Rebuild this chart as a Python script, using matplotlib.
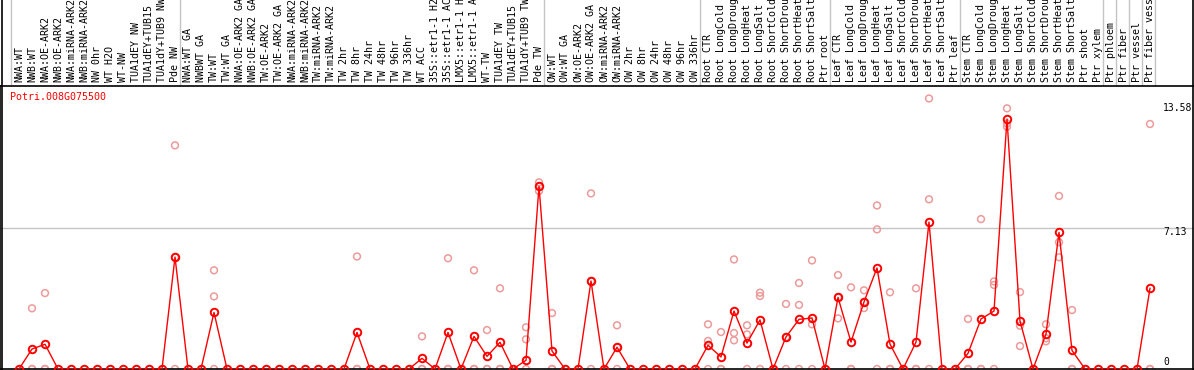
import matplotlib
matplotlib.use("Agg")
import matplotlib.pyplot as plt
from matplotlib.lines import Line2D
from matplotlib.transforms import blended_transform_factory

categories = [
    "NWA:WT", "NWB:WT", "NWA:OE-ARK2", "NWB:OE-ARK2", "NWA:miRNA-ARK2", "NWB:miRNA-ARK2",
    "NW 0hr", "WT H2O", "WT-NW", "TUA1dEY NW", "TUA1dEY+TUB15", "TUA1dY+TUB9 NW", "Pde NW",
    "NWA:WT GA", "NWBWT GA", "TW:WT", "TW:WT GA", "NWA:OE-ARK2 GA", "NWB:OE-ARK2 GA",
    "TW:OE-ARK2", "TW:OE-ARK2 GA", "NWA:miRNA-ARK2", "NWB:miRNA-ARK2", "TW:miRNA-ARK2",
    "TW:miRNA-ARK2", "TW 2hr", "TW 8hr", "TW 24hr", "TW 48hr", "TW 96hr", "TW 336hr",
    "WT ACC", "35S::etr1-1 H2O", "35S::etr1-1 ACC", "LMX5::etr1-1 H2O", "LMX5::etr1-1 ACC",
    "WT-TW", "TUA1dEY TW", "TUA1dEY+TUB15", "TUA1dY+TUB9 TW", "Pde TW",
    "OW:WT", "OW:WT GA", "OW:OE-ARK2", "OW:OE-ARK2 GA", "OW:miRNA-ARK2", "OW:miRNA-ARK2",
    "OW 2hr", "OW 8hr", "OW 24hr", "OW 48hr", "OW 96hr", "OW 336hr",
    "Root CTR", "Root LongCold", "Root LongDrought", "Root LongHeat", "Root LongSalt",
    "Root ShortCold", "Root ShortDrought", "Root ShortHeat", "Root ShortSalt", "Ptr root",
    "Leaf CTR", "Leaf LongCold", "Leaf LongDrought", "Leaf LongHeat", "Leaf LongSalt",
    "Leaf ShortCold", "Leaf ShortDrought", "Leaf ShortHeat", "Leaf ShortSalt", "Ptr leaf",
    "Stem CTR", "Stem LongCold", "Stem LongDrought", "Stem LongHeat", "Stem LongSalt",
    "Stem ShortCold", "Stem ShortDrought", "Stem ShortHeat", "Stem ShortSalt", "Ptr shoot",
    "Ptr xylem", "Ptr phloem", "Ptr fiber", "Ptr vessel", "Ptr fiber vessel",
]

means = [
    0, 1.01, 1.25, 0, 0, 0, 0, 0, 0, 0, 0, 0, 5.66,
    0, 0, 2.86, 0, 0, 0, 0, 0, 0, 0, 0, 0, 0, 1.85, 0, 0, 0, 0, 0.54,
    0, 1.85, 0, 1.65, 0.64, 1.35, 0, 0.44, 9.24,
    0.91, 0, 0, 4.45, 0, 1.10, 0, 0, 0, 0, 0, 0,
    1.20, 0.61, 2.93, 1.31, 2.48, 0, 1.62, 2.51, 2.58, 0,
    3.62, 1.36, 3.39, 5.11, 1.26, 0, 1.36, 7.43, 0, 0,
    0.79, 2.53, 2.93, 12.64, 2.43, 0, 1.77, 6.91, 0.94, 0,
    0, 0, 0, 0, 4.08,
]

replicates = {
    1: [3.07, 0, 0], 2: [3.84, 0, 0], 12: [11.31, 5.66, 0], 15: [4.99, 3.67, 0],
    26: [5.69, 0, 0], 31: [1.65, 0, 0], 33: [5.60, 0, 0], 35: [4.99, 0, 0],
    36: [1.97, 0, 0], 37: [4.08, 0, 0], 39: [2.11, 1.50, 0], 40: [9.44, 9.00, 9.24],
    41: [2.83, 0, 0], 44: [8.88, 4.45, 0], 46: [2.21, 1.10, 0],
    53: [2.26, 1.42, 0], 54: [1.87, 0, 0], 55: [5.54, 1.82, 1.45], 56: [2.21, 1.75, 0],
    57: [3.86, 3.69, 0], 59: [3.29, 1.62, 0], 60: [4.35, 3.24, 0], 61: [5.49, 2.26, 0],
    63: [4.75, 3.62, 2.56], 64: [4.13, 0, 0], 65: [3.98, 3.08, 3.39], 66: [8.27, 7.06, 0],
    67: [3.88, 0, 0], 69: [4.08, 0, 0], 70: [13.68, 8.58, 0],
    73: [2.53, 0, 0], 74: [7.58, 0, 0], 75: [4.43, 4.25, 0], 76: [13.18, 12.25, 12.42],
    77: [3.89, 2.19, 1.16], 79: [2.26, 1.55, 1.40], 80: [8.75, 6.41, 5.65],
    81: [2.98, 0, 0], 87: [12.39, 0, 0],
}

group_bounds = [-0.62, 12.38, 40.38, 52.38, 62.38, 72.38, 83.38, 84.38, 85.38, 86.38, 87.38]
tick_values = [0, 7.13, 13.58]
tick_labels = ["0", "7.13", "13.58"]
title = "Potri.008G075500"

W, H = 1194, 370
fig = plt.figure(figsize=(W / 100, H / 100), dpi=100)
fig.patch.set_facecolor("white")
y_bot, y_top = 369, 86
ax = fig.add_axes([0, (H - y_bot) / H, 1, (y_bot - y_top) / H])
x0, dx = 19, 13
ax.set_xlim(-x0 / dx, (W - x0) / dx)
ppu = 141 / 7.13
ax.set_ylim(0, (y_bot - y_top) / ppu)
ax.set_xticks([])
ax.set_yticks([])
ax.spines["right"].set_visible(False)
for s in ["top", "bottom", "left"]:
    ax.spines[s].set_color("black")
    ax.spines[s].set_linewidth(1.2)

mono = "DejaVu Sans Mono"
fs = 7.2
pink = "#ec9a9a"
gray = "#c4c4c4"

ax.axhline(7.13, color=gray, lw=1, zorder=0)

trans = blended_transform_factory(ax.transData, fig.transFigure)
for b in group_bounds:
    fig.add_artist(Line2D([b, b], [0, 1], transform=trans, color=gray, lw=1, zorder=0))
fig.add_artist(Line2D([1.5 / W, 1.5 / W], [0, 1], transform=fig.transFigure, color="black", lw=1.2))
fig.add_artist(Line2D([1 - 1.5 / W, 1 - 1.5 / W], [0, 1], transform=fig.transFigure, color="black", lw=1.2))

xs = list(range(len(categories)))
for i, lab in enumerate(categories):
    fig.text(i, (H - 82) / H, lab, transform=trans, rotation=90, ha="center", va="bottom",
             fontsize=fs, family=mono, color="black")

for i, reps in replicates.items():
    ax.scatter([i] * len(reps), reps, s=24, facecolors="none", edgecolors=pink,
               linewidths=1.1, zorder=2)

ax.plot(xs, means, color="red", lw=1, marker="o", mfc="none", mec="red", ms=5.4,
        mew=1.4, zorder=3)

ax.text(-0.69, 13.75, title, color="red", fontsize=fs, family=mono, va="center", ha="left")

offsets = [7, -4, -8]
for v, lab, dy in zip(tick_values, tick_labels, offsets):
    ax.annotate(lab, xy=((1163 - x0) / dx, v), xytext=(0, dy), textcoords="offset pixels",
                ha="left", va="center", fontsize=7.0, family=mono, color="black",
                annotation_clip=False)

fig.savefig("out.png", dpi=100)
